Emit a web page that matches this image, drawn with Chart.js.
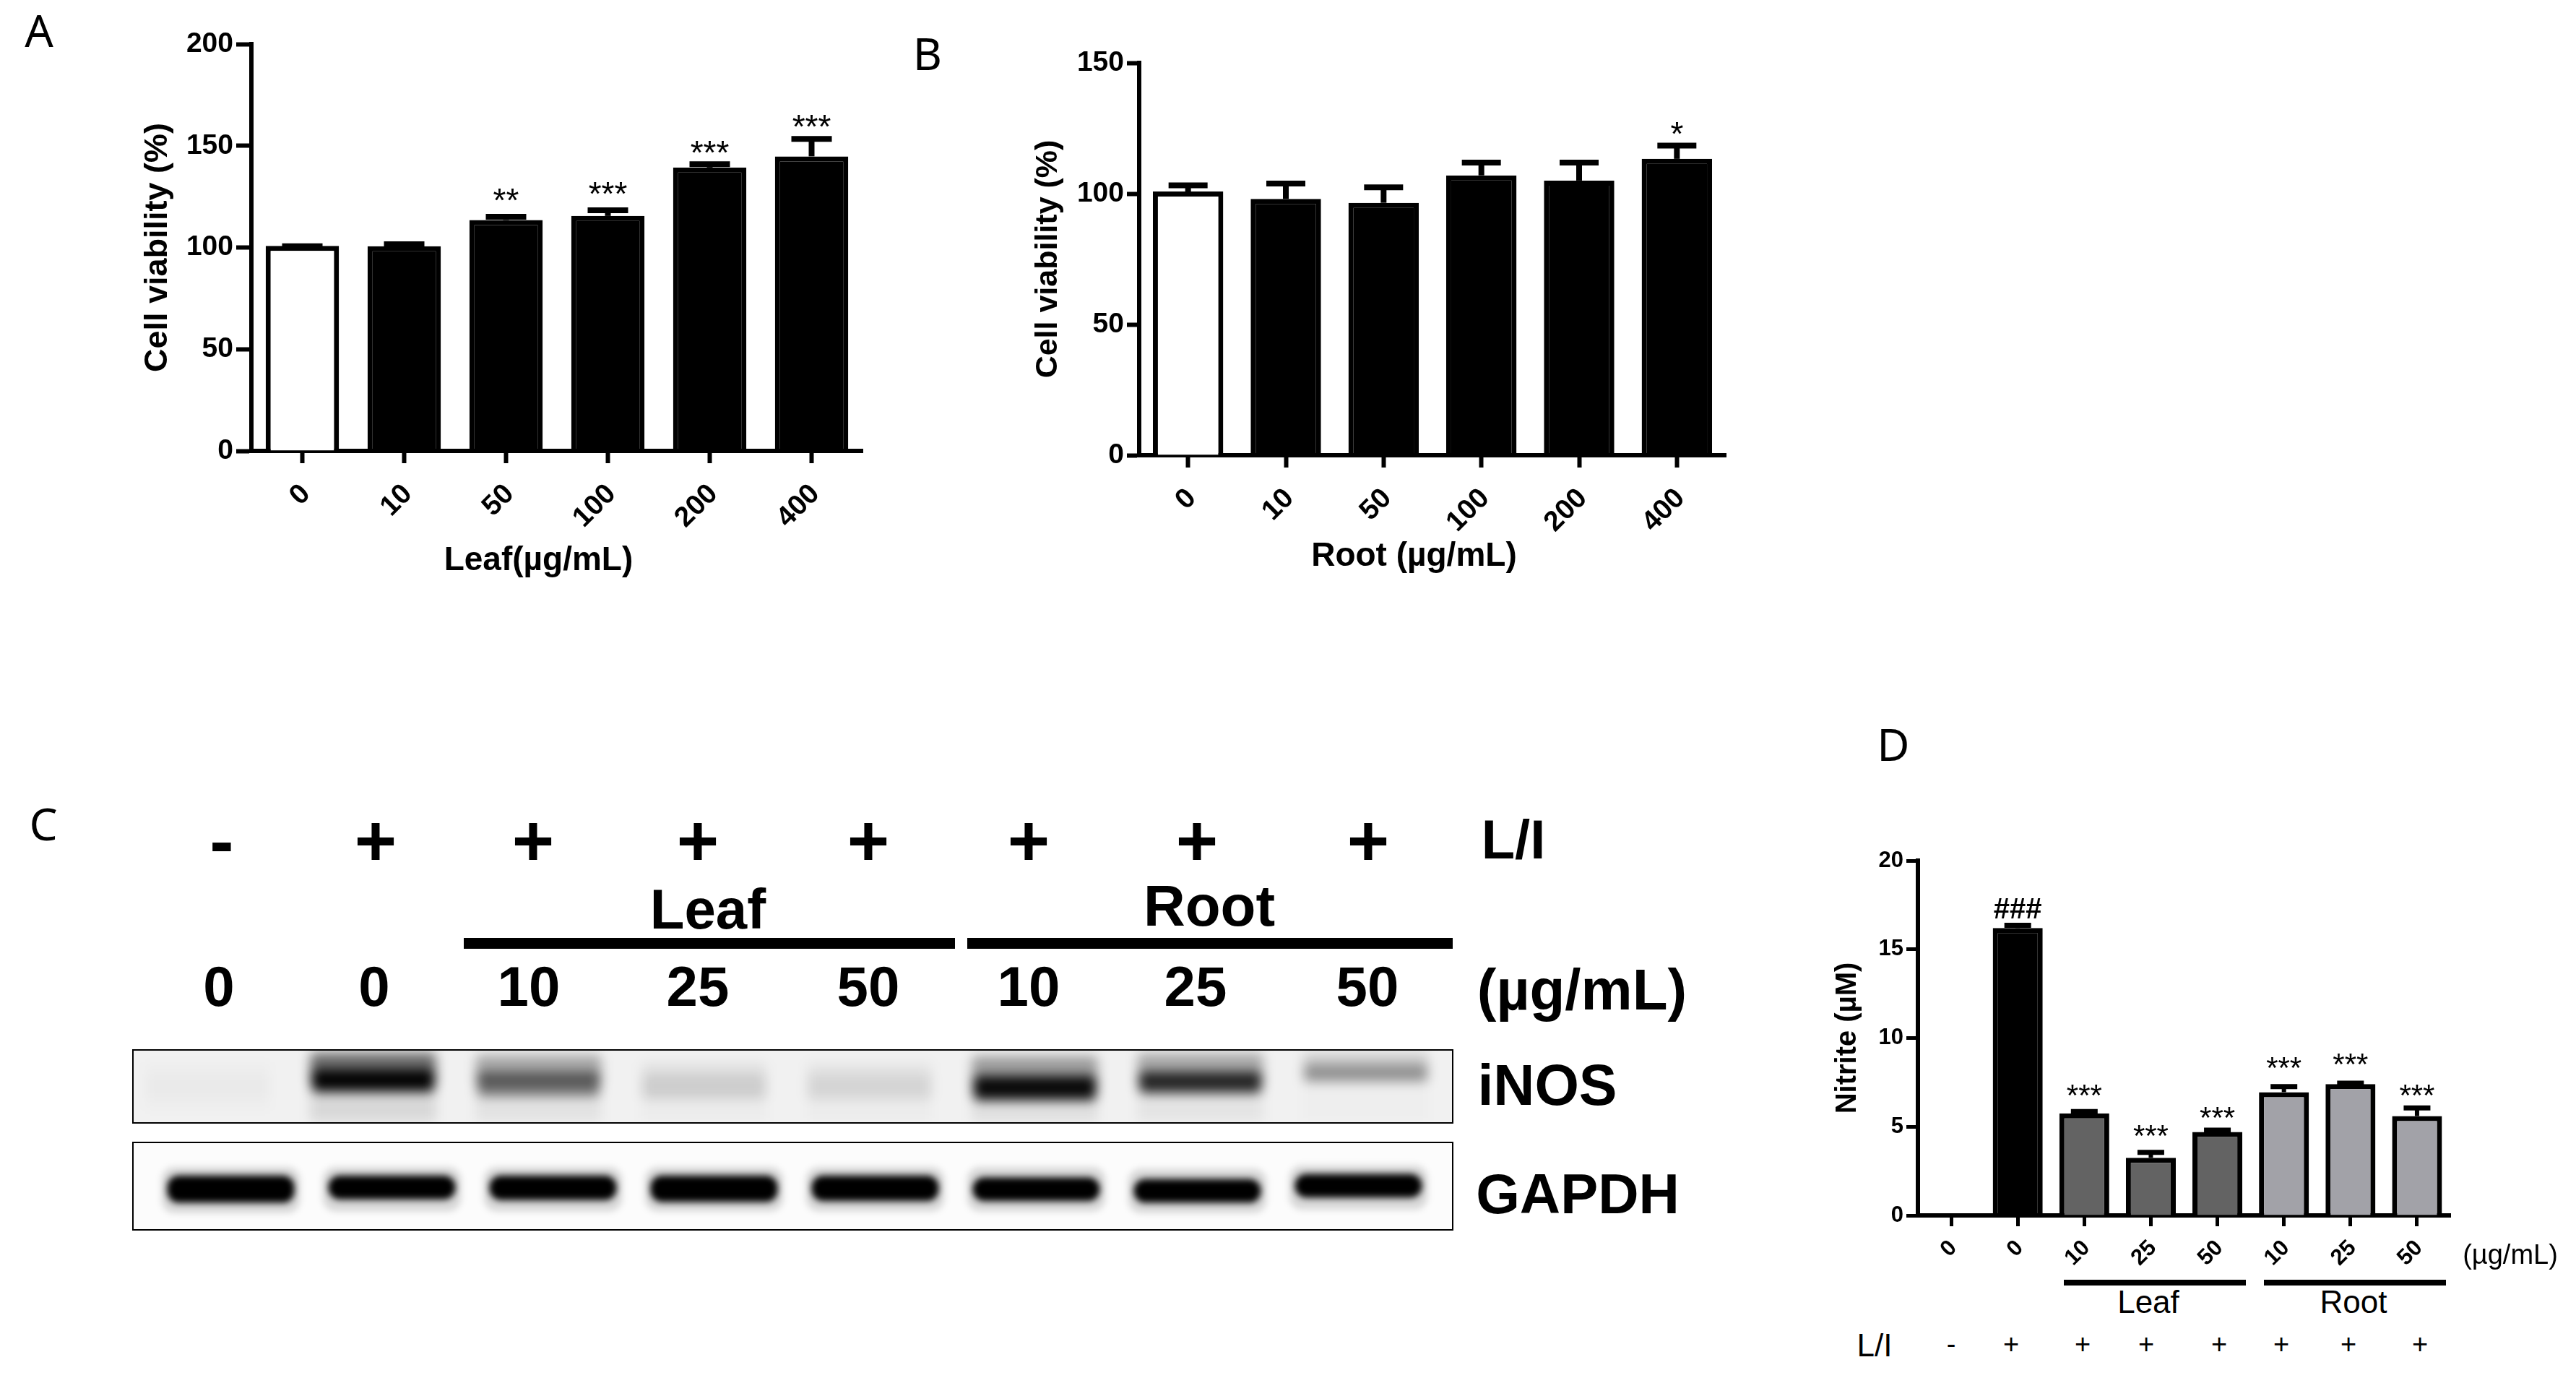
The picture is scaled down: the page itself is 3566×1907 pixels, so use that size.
<!DOCTYPE html>
<html>
<head>
<meta charset="utf-8">
<title>Cell viability, iNOS and nitrite</title>
<script src="https://cdn.jsdelivr.net/npm/chart.js@4/dist/chart.umd.js"></script>
<style>
  html, body { margin: 0; background: #fff; }
  #page { position: relative; width: 3566px; height: 1907px; overflow: hidden; background: #fff; font-family: "Liberation Sans", Arial, sans-serif; color: #000; }
  .panel { position: absolute; }
  .panel canvas { display: block; }
  .blot { position: absolute; overflow: hidden; box-sizing: border-box; border: 2.5px solid #000; }
  .blot canvas { display: block; margin-left: -40px; }
  .label { position: absolute; white-space: nowrap; line-height: 1; transform: translate(-50%, -50%); }
  .rule { position: absolute; background: #000; }
</style>
</head>
<body>
<div id="page"></div>
<script>
// Panel A - leaf extract viability
const leafDoses = ["0", "10", "50", "100", "200", "400"];
const leafViability = [100.8, 100.6, 113.5, 115.5, 139.3, 144.8];
const leafErrTop = [102, 103, 116.5, 119.7, 142.4, 154.8];
const leafSig = ["", "", "**", "***", "***", "***"];
const leafSigAt = [null, null, 126, 129, 149.5, 162];

// Panel B - root extract viability
const rootDoses = ["0", "10", "50", "100", "200", "400"];
const rootViability = [100.8, 98, 96.5, 107, 105, 113.3];
const rootErrTop = [104.3, 105, 103.5, 113, 113, 119.5];
const rootSig = ["", "", "", "", "", "*"];
const rootSigAt = [null, null, null, null, null, 125];

// Panel D - nitrite
const nitriteDoses = ["0", "0", "10", "25", "50", "10", "25", "50"];
const nitrite = [null, 16.2, 5.75, 3.25, 4.7, 6.95, 7.4, 5.6];
const nitriteErrTop = [null, 16.5, 6, 3.7, 4.95, 7.4, 7.6, 6.2];
const nitriteSig = ["", "###", "***", "***", "***", "***", "***", "***"];
const nitriteSigAt = [null, 17.3, 7.05, 4.75, 5.8, 8.6, 8.8, 7.05];

// Panel C - blot lanes, band position as % of the box height, darkness 0..1
const lanes = ["1", "2", "3", "4", "5", "6", "7", "8"];
const inosCore = [[32, 68], [27, 58], [30, 64], [32, 66], [32, 66], [36, 70], [30, 60], [20, 42]];
const inosCoreDark = [0.02, 0.98, 0.5, 0.1, 0.08, 0.95, 0.8, 0.3];
const inosSmear = [[15, 85], [3, 50], [6, 50], [15, 70], [15, 70], [8, 60], [4, 50], [3, 46]];
const inosSmearDark = [0.01, 0.55, 0.3, 0.05, 0.04, 0.35, 0.3, 0.14];
const inosTail = [[60, 100], [55, 100], [60, 100], [60, 100], [60, 100], [65, 100], [58, 100], [40, 100]];
const inosTailDark = [0, 0.1, 0.06, 0.02, 0.02, 0.07, 0.05, 0.01];
const gapdhCore = [[38, 70], [38, 66], [38, 67], [38, 69], [38, 68], [40, 68], [42, 70], [36, 64]];
const gapdhCoreDark = [1, 1, 1, 1, 1, 1, 1, 1];
const gapdhHalo = [[28, 82], [28, 80], [28, 80], [28, 80], [28, 80], [28, 80], [30, 82], [26, 78]];
const gapdhHaloDark = [0.14, 0.14, 0.14, 0.14, 0.14, 0.14, 0.14, 0.14];

const page = document.getElementById("page");
const FONT = "'Liberation Sans', Arial, sans-serif";

function addLabel(text, x, y, size, weight, family) {
  const el = document.createElement("div");
  el.className = "label";
  el.textContent = text;
  el.style.left = x + "px";
  el.style.top = y + "px";
  el.style.fontSize = size + "px";
  el.style.fontWeight = weight || 400;
  if (family) el.style.fontFamily = family;
  page.appendChild(el);
}

function addRule(x1, x2, y, h) {
  const el = document.createElement("div");
  el.className = "rule";
  el.style.left = x1 + "px";
  el.style.width = x2 - x1 + "px";
  el.style.top = y + "px";
  el.style.height = h + "px";
  page.appendChild(el);
}

// error bars (upper half only) and significance marks, from the chart's own scales
const errorBars = {
  id: "errorBars",
  afterDatasetsDraw(chart, args, opts) {
    const { ctx, scales } = chart;
    ctx.save();
    ctx.strokeStyle = "#000";
    ctx.lineCap = "butt";
    chart.getDatasetMeta(0).data.forEach((bar, i) => {
      const tip = opts.tops[i];
      if (tip !== null) {
        const yTip = scales.y.getPixelForValue(tip) + opts.capThick / 2;
        const yBase = scales.y.getPixelForValue(chart.data.datasets[0].data[i]);
        ctx.lineWidth = opts.stem;
        ctx.beginPath();
        ctx.moveTo(bar.x, yBase);
        ctx.lineTo(bar.x, yTip);
        ctx.stroke();
        ctx.lineWidth = opts.capThick;
        ctx.beginPath();
        ctx.moveTo(bar.x - opts.capWidth / 2, yTip);
        ctx.lineTo(bar.x + opts.capWidth / 2, yTip);
        ctx.stroke();
      }
      if (opts.sig[i]) {
        ctx.font = opts.sig[i][0] === "#" ? opts.hashFont : opts.sigFont;
        ctx.fillStyle = "#000";
        ctx.textAlign = "center";
        ctx.textBaseline = "alphabetic";
        const m = ctx.measureText(opts.sig[i]);
        const yMid = scales.y.getPixelForValue(opts.sigAt[i]);
        ctx.fillText(opts.sig[i], bar.x, yMid + (m.actualBoundingBoxAscent - m.actualBoundingBoxDescent) / 2);
      }
    });
    ctx.restore();
  },
};

function barPanel(cfg) {
  const box = document.createElement("div");
  box.className = "panel";
  box.style.left = cfg.left + "px";
  box.style.top = cfg.top + "px";
  const canvas = document.createElement("canvas");
  canvas.width = cfg.width;
  canvas.height = cfg.height;
  box.appendChild(canvas);
  page.appendChild(box);

  return new Chart(canvas, {
    type: "bar",
    data: {
      labels: cfg.labels,
      datasets: [{
        data: cfg.values,
        backgroundColor: cfg.fills,
        borderColor: "#000",
        borderWidth: cfg.barBorder,
        borderSkipped: "bottom",
        barPercentage: cfg.barPct,
        categoryPercentage: 1,
      }],
    },
    plugins: [errorBars],
    options: {
      responsive: false,
      animation: false,
      devicePixelRatio: 1,
      layout: {
        autoPadding: false,
        padding: { top: cfg.plotTop, right: cfg.width - cfg.plotRight, left: 0, bottom: 0 },
      },
      plugins: {
        legend: { display: false },
        tooltip: { enabled: false },
        errorBars: cfg.err,
      },
      scales: {
        x: {
          type: "category",
          afterFit(s) { s.height = cfg.height - cfg.plotBottom; s.paddingLeft = 0; s.paddingRight = 0; },
          grid: { drawOnChartArea: false, offset: false, tickLength: cfg.xTickLen, tickWidth: cfg.tickWidth, color: "#000" },
          border: { display: true, color: "#000", width: cfg.axisWidth },
          ticks: { color: "#000", minRotation: 45, maxRotation: 45, padding: cfg.xTickPad, labelOffset: cfg.xLabelShift, autoSkip: false, font: { family: FONT, size: cfg.tickSize, weight: cfg.tickWeight } },
          title: cfg.xTitle ? {
            display: true,
            text: cfg.xTitle,
            color: "#000",
            font: { family: FONT, size: cfg.titleSize, weight: "bold" },
            padding: { top: 0, bottom: cfg.xTitleBottom },
          } : { display: false },
        },
        y: {
          min: 0,
          max: cfg.yMax,
          afterFit(s) { s.width = cfg.plotLeft; s.paddingTop = 0; s.paddingBottom = 0; },
          grid: { drawOnChartArea: false, tickLength: cfg.yTickLen, tickWidth: cfg.tickWidth, color: "#000" },
          border: { display: true, color: "#000", width: cfg.axisWidth },
          ticks: { color: "#000", stepSize: cfg.yStep, padding: 4, font: { family: FONT, size: cfg.tickSize, weight: cfg.tickWeight } },
          title: {
            display: true,
            text: cfg.yTitle,
            color: "#000",
            font: { family: FONT, size: cfg.yTitleSize, weight: "bold" },
            padding: { top: cfg.yTitleLeft, bottom: 0 },
          },
        },
      },
    },
  });
}

// A  (trailing nbsp pull the x title left of the axis centre, as in the figure)
barPanel({
  left: 0, top: 0, width: 1260, height: 830,
  plotLeft: 348, plotRight: 1194, plotTop: 61, plotBottom: 624,
  labels: leafDoses, values: leafViability,
  fills: ["#fff", "#000", "#000", "#000", "#000", "#000"],
  barPct: 0.72, barBorder: 7, axisWidth: 6, tickWidth: 6, xTickLen: 17, yTickLen: 21,
  yMax: 200, yStep: 50, tickSize: 39, tickWeight: "bold", xTickPad: 20, xLabelShift: 5,
  titleSize: 46, yTitleSize: 45,
  yTitle: "Cell viability (%)", yTitleLeft: 192,
  xTitle: "Leaf(\u00b5g/mL)\u00a0\u00a0\u00a0\u00a0", xTitleBottom: 26,
  err: { tops: leafErrTop, sig: leafSig, sigAt: leafSigAt, capWidth: 56, capThick: 8, stem: 8, sigFont: "46px " + FONT, hashFont: "bold 40px " + FONT },
});

// B
barPanel({
  left: 1260, top: 0, width: 1190, height: 830,
  plotLeft: 317, plotRight: 1129, plotTop: 87, plotBottom: 630,
  labels: rootDoses, values: rootViability,
  fills: ["#fff", "#000", "#000", "#000", "#000", "#000"],
  barPct: 0.72, barBorder: 7, axisWidth: 6, tickWidth: 6, xTickLen: 17, yTickLen: 17,
  yMax: 150, yStep: 50, tickSize: 39, tickWeight: "bold", xTickPad: 20, xLabelShift: 5,
  titleSize: 46, yTitleSize: 43,
  yTitle: "Cell viability (%)", yTitleLeft: 165,
  xTitle: "Root (\u00b5g/mL)\u00a0\u00a0\u00a0\u00a0", xTitleBottom: 32,
  err: { tops: rootErrTop, sig: rootSig, sigAt: rootSigAt, capWidth: 54, capThick: 8, stem: 8, sigFont: "46px " + FONT, hashFont: "bold 40px " + FONT },
});

// D
barPanel({
  left: 2500, top: 1120, width: 940, height: 640,
  plotLeft: 155, plotRight: 892, plotTop: 71, plotBottom: 562,
  labels: nitriteDoses, values: nitrite,
  fills: ["#fff", "#000", "#636363", "#636363", "#636363", "#a2a2a8", "#a2a2a8", "#a2a2a8"],
  barPct: 0.75, barBorder: 7, axisWidth: 6, tickWidth: 5, xTickLen: 15, yTickLen: 16,
  yMax: 20, yStep: 5, tickSize: 31, tickWeight: "bold", xTickPad: 12, xLabelShift: 3,
  titleSize: 36, yTitleSize: 40,
  yTitle: "Nitrite (\u00b5M)", yTitleLeft: 34,
  xTitle: null,
  err: { tops: nitriteErrTop, sig: nitriteSig, sigAt: nitriteSigAt, capWidth: 37, capThick: 7, stem: 6, sigFont: "42px " + FONT, hashFont: "bold 40px " + FONT },
});

// D, labels under the axis
addLabel("(\u00b5g/mL)", 3475, 1736, 38);
addRule(2857, 3109, 1771, 8);
addRule(3134, 3386, 1771, 8);
addLabel("Leaf", 2974, 1802, 44);
addLabel("Root", 3258, 1802, 44);
addLabel("L/I", 2595, 1862, 44);
[[2701, "-"], [2784, "+"], [2883, "+"], [2971, "+"], [3072, "+"], [3158, "+"], [3251, "+"], [3350, "+"]]
  .forEach(([x, s]) => addLabel(s, x, 1860, 38));

// C, the blot rows as blurred floating bars
function blotPanel(cfg) {
  const box = document.createElement("div");
  box.className = "blot";
  box.style.left = "183px";
  box.style.width = "1829px";
  box.style.top = cfg.top + "px";
  box.style.height = cfg.height + "px";
  box.style.background = cfg.bg;
  const canvas = document.createElement("canvas");
  canvas.width = 1900;
  canvas.height = cfg.height - 5;
  canvas.style.filter = "blur(" + cfg.blur + "px)";
  box.appendChild(canvas);
  page.appendChild(box);

  new Chart(canvas, {
    type: "bar",
    data: {
      labels: lanes,
      datasets: cfg.rows.map((row) => ({
        data: row.data,
        backgroundColor: row.dark.map((d) => "rgba(0,0,0," + d + ")"),
        borderRadius: row.radius,
        borderSkipped: false,
        barPercentage: row.width,
        categoryPercentage: 1,
        grouped: false,
      })),
    },
    options: {
      responsive: false,
      animation: false,
      devicePixelRatio: 1,
      layout: { autoPadding: false, padding: { left: cfg.padLeft, right: cfg.padRight } },
      plugins: { legend: { display: false }, tooltip: { enabled: false } },
      scales: {
        x: { display: false },
        y: { display: false, reverse: true, min: 0, max: 100 },
      },
    },
  });
}

blotPanel({
  top: 1452, height: 103, bg: "#f1f1f1", blur: 8, padLeft: 28, padRight: 40,
  rows: [
    { data: inosTail, dark: inosTailDark, width: 0.76, radius: 0 },
    { data: inosSmear, dark: inosSmearDark, width: 0.76, radius: 6 },
    { data: inosCore, dark: inosCoreDark, width: 0.74, radius: 6 },
  ],
});
blotPanel({
  top: 1580, height: 123, bg: "#fcfcfc", blur: 5, padLeft: 63, padRight: 53,
  rows: [
    { data: gapdhHalo, dark: gapdhHaloDark, width: 0.86, radius: 18 },
    { data: gapdhCore, dark: gapdhCoreDark, width: 0.79, radius: 16 },
  ],
});

addLabel("C", 60, 1139, 62, 400, "'Noto Sans'");
addLabel("A", 54, 41, 62, 400, "'Noto Sans'");
addLabel("B", 1284, 73, 62, 400, "'Noto Sans'");
addLabel("D", 2621, 1029, 62, 400, "'Noto Sans'");

[[307, "-"], [520, "+"], [738, "+"], [966, "+"], [1202, "+"], [1424, "+"], [1657, "+"], [1894, "+"]]
  .forEach(([x, s]) => addLabel(s, x, 1163, 100, 700));
addLabel("L/I", 2095, 1162, 76, 700);
addLabel("Leaf", 980, 1258, 78, 700);
addLabel("Root", 1674, 1254, 80, 700);
addRule(642, 1322, 1298, 15);
addRule(1339, 2011, 1298, 15);
[[303, "0"], [518, "0"], [732, "10"], [966, "25"], [1202, "50"], [1424, "10"], [1655, "25"], [1893, "50"]]
  .forEach(([x, s]) => addLabel(s, x, 1365, 78, 700));
addLabel("(\u00b5g/mL)", 2190, 1370, 80, 700);
addLabel("iNOS", 2142, 1501, 79, 700);
addLabel("GAPDH", 2184, 1652, 78, 700);
</script>
</body>
</html>
